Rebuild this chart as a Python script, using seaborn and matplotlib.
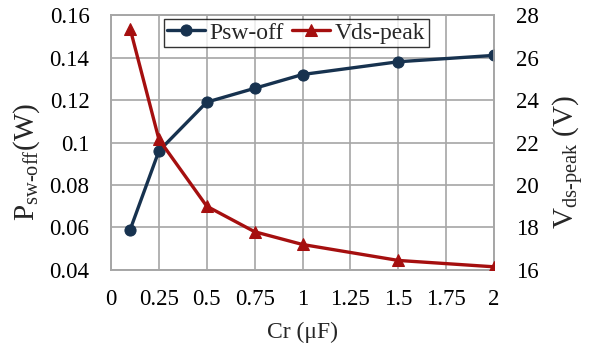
import matplotlib
matplotlib.use("Agg")
import matplotlib.pyplot as plt
import seaborn as sns
import pandas as pd

cr = [0.1, 0.25, 0.5, 0.75, 1.0, 1.5, 2.0]
psw_off = [0.059, 0.096, 0.119, 0.1255, 0.132, 0.138, 0.141]
vds_peak = [27.35, 22.15, 19.0, 17.8, 17.2, 16.45, 16.15]
x_ticks = [0, 0.25, 0.5, 0.75, 1, 1.25, 1.5, 1.75, 2]
x_tick_labels = ["0", "0.25", "0.5", "0.75", "1", "1.25", "1.5", "1.75", "2"]
left_ticks = [0.04, 0.06, 0.08, 0.1, 0.12, 0.14, 0.16]
left_tick_labels = ["0.04", "0.06", "0.08", "0.1", "0.12", "0.14", "0.16"]
right_ticks = [16, 18, 20, 22, 24, 26, 28]

df = pd.DataFrame({"Cr": cr, "Psw": psw_off, "Vds": vds_peak})

sns.set_theme(style="white")
plt.rcParams["font.family"] = ["Liberation Serif", "DejaVu Serif"]
plt.rcParams["mathtext.fontset"] = "custom"
plt.rcParams["mathtext.rm"] = "Liberation Serif"

blue = "#17324F"
red = "#A50F0F"
grid_c = "#A6A6A6"
fs = 16.5

fig = plt.figure(figsize=(5.95, 3.45), dpi=100)
ax = fig.add_axes([0.1866, 0.2174, 0.8303 - 0.1866, 0.9565 - 0.2174])
ax2 = ax.twinx()

sns.lineplot(data=df, x="Cr", y="Psw", ax=ax, color=blue, lw=2.4, marker="o",
             markersize=8, markeredgecolor=blue, label="Psw-off", legend=False, zorder=3)
sns.lineplot(data=df, x="Cr", y="Vds", ax=ax2, color=red, lw=2.4, marker="^",
             markersize=9, markeredgecolor=red, label="Vds-peak", legend=False, zorder=3)

ax.set_xlim(0, 2)
ax.set_ylim(0.04, 0.16)
ax2.set_ylim(16, 28)
ax.set_xticks(x_ticks)
ax.set_xticklabels(x_tick_labels)
ax.set_yticks(left_ticks)
ax.set_yticklabels(left_tick_labels)
ax2.set_yticks(right_ticks)

ax.grid(True, color=grid_c, lw=1.2)
ax.set_axisbelow(True)
for a in (ax, ax2):
    for s in a.spines.values():
        s.set_color(grid_c)
        s.set_linewidth(1.2)
    a.tick_params(axis="both", which="both", length=0, labelsize=fs, colors="black")
ax.tick_params(axis="x", pad=14)
ax.tick_params(axis="y", pad=15.5)
ax2.tick_params(axis="y", pad=15.5)

ax.set_xlabel("Cr (μF)", fontsize=17)
ax.xaxis.set_label_coords(0.5, -0.205)
ax.set_ylabel("P$_{\\mathregular{sw\\text{-}off}}$(W)", fontsize=21)
ax.yaxis.set_label_coords(-0.18, 0.424)
ax2.set_ylabel("V$_{\\mathregular{ds\\text{-}peak}}$ (V)", fontsize=21)
ax2.yaxis.set_label_coords(1.146, 0.424)

h1, l1 = ax.get_legend_handles_labels()
h2, l2 = ax2.get_legend_handles_labels()
leg = ax2.legend(h1 + h2, l1 + l2, ncol=2, loc="upper center", bbox_to_anchor=(0.484, 1.0),
                 fontsize=17, frameon=True, fancybox=False, edgecolor="black",
                 handlelength=1.6, handletextpad=0.2, columnspacing=0.35, borderpad=0.15,
                 borderaxespad=0.15)
leg.get_frame().set_linewidth(1.0)

fig.savefig("out.png", dpi=100)
